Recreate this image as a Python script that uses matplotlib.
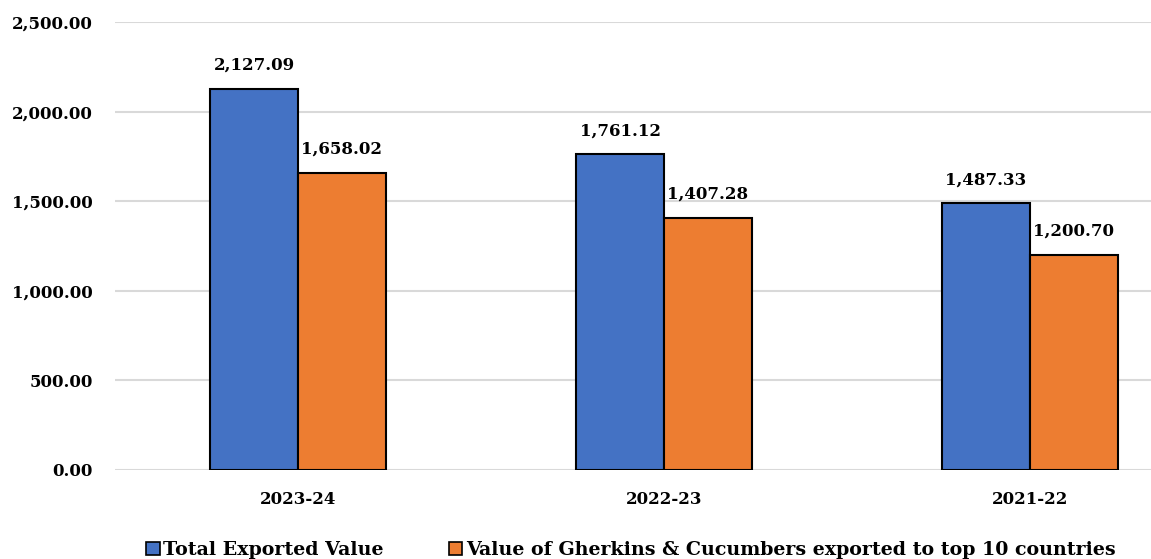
import numpy as np
import matplotlib
matplotlib.use('Agg')
import matplotlib.pyplot as plt
from matplotlib.patches import Patch

# Data
years = ['2023-24', '2022-23', '2021-22']
total_exported = [2127.09, 1761.12, 1487.33]
gherkins_top10 = [1658.02, 1407.28, 1200.70]
series_names = ['Total Exported Value',
                'Value of Gherkins & Cucumbers exported to top 10 countries']
yticks = [0, 500, 1000, 1500, 2000, 2500]

blue = '#4472C4'
orange = '#ED7D31'

plt.rcParams['font.family'] = ['DejaVu Serif']
plt.rcParams['font.weight'] = 'bold'

fig = plt.figure(figsize=(11.51, 5.59), dpi=100)
ax = fig.add_axes([115 / 1151, 89 / 559, 1 - 115 / 1151, 448 / 559])

x = np.arange(len(years))
w = 0.24
b1 = ax.bar(x - w / 2, total_exported, w, color=blue, edgecolor='black', linewidth=1.5, zorder=3)
b2 = ax.bar(x + w / 2, gherkins_top10, w, color=orange, edgecolor='black', linewidth=1.5, zorder=3)

for bars in (b1, b2):
    ax.bar_label(bars, labels=[f'{v:,.2f}' for v in bars.datavalues],
                 padding=11, fontsize=12, fontweight='bold')

ax.set_ylim(0, 2500)
ax.set_xlim(-0.5, (1151 - 298) / 366)
ax.set_yticks(yticks)
ax.set_yticklabels([f'{v:,.2f}' for v in yticks], fontsize=12, fontweight='bold')
ax.set_xticks(x)
ax.set_xticklabels(years, fontsize=12, fontweight='bold')
ax.tick_params(axis='both', length=0)
ax.tick_params(axis='y', pad=16)
ax.tick_params(axis='x', pad=15)
ax.grid(axis='y', color='#d9d9d9', linewidth=1.5, zorder=0)
for s in ax.spines.values():
    s.set_visible(False)

handles = [Patch(facecolor=blue, edgecolor='black', linewidth=1.2),
           Patch(facecolor=orange, edgecolor='black', linewidth=1.2)]
fig.legend(handles, series_names, loc='center', bbox_to_anchor=(0.548, 0.016),
           ncol=2, frameon=False, handlelength=0.7, handleheight=0.7,
           handletextpad=0.2, columnspacing=3.4, prop={'weight': 'bold', 'size': 13.7})

fig.savefig('out.png', dpi=100)
